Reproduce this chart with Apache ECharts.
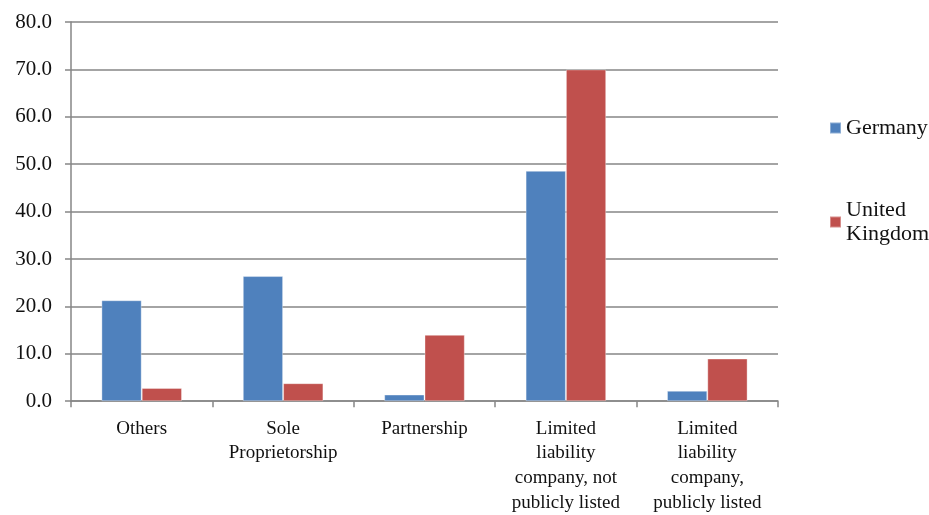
<!DOCTYPE html>
<html>
<head>
<meta charset="utf-8">
<script src="https://cdn.jsdelivr.net/npm/echarts@6/dist/echarts.min.js"></script>
<style>html,body{margin:0;padding:0;background:#fff}#c{width:929px;height:515px}</style>
</head>
<body>
<div id="c"></div>
<script>
var categories = ['Others', 'Sole\nProprietorship', 'Partnership', 'Limited\nliability\ncompany, not\npublicly listed', 'Limited\nliability\ncompany,\npublicly listed'];
var germany = [21.3, 26.4, 1.4, 48.6, 2.2];
var uk = [2.8, 3.8, 14.0, 70.0, 9.0];
var yTicks = [0, 10, 20, 30, 40, 50, 60, 70, 80];

var FONT = '"Liberation Serif", "Times New Roman", serif';
var GRID = '#868686';
var chart = echarts.init(document.getElementById('c'), null, {renderer: 'canvas'});
chart.setOption({
  animation: false,
  backgroundColor: '#ffffff',
  grid: {left: 71, right: 151, top: 22, bottom: 107, containLabel: false},
  legend: [
    {data: ['Germany'], orient: 'vertical', left: 824, top: 112, itemWidth: 11, itemHeight: 11, itemGap: 8,
     icon: 'rect', textStyle: {fontFamily: FONT, fontSize: 22, color: '#111', padding: [0,0,0,0]}},
    {data: ['United Kingdom'], orient: 'vertical', left: 824, top: 181, itemWidth: 11, itemHeight: 11,
     icon: 'rect', formatter: function(n){ return 'United\nKingdom'; },
     textStyle: {fontFamily: FONT, fontSize: 22, color: '#111', lineHeight: 24, padding: [24,0,0,0]}}
  ],
  xAxis: {
    type: 'category',
    data: categories,
    axisLine: {lineStyle: {color: GRID, width: 1.5}},
    axisTick: {show: true, length: 6, lineStyle: {color: GRID, width: 1.5}},
    axisLabel: {interval: 0, fontFamily: FONT, fontSize: 19, color: '#111', lineHeight: 24.7, margin: 15, verticalAlign: 'top'},
    splitLine: {show: false}
  },
  yAxis: {
    type: 'value',
    min: 0, max: 80, interval: 10,
    axisLine: {show: true, lineStyle: {color: GRID, width: 1.5}},
    axisTick: {show: true, length: 6, lineStyle: {color: GRID, width: 1.5}},
    axisLabel: {fontFamily: FONT, fontSize: 21, color: '#111', margin: 19,
      formatter: function(v){ return yTicks.indexOf(v) >= 0 ? v.toFixed(1) : ''; }},
    splitLine: {show: true, lineStyle: {color: GRID, width: 1.5}}
  },
  series: [
    {name: 'Germany', type: 'bar', data: germany, barGap: '0%', barCategoryGap: '43%',
     itemStyle: {color: '#4F81BD', borderColor: 'rgba(255,255,255,0.35)', borderWidth: 1}},
    {name: 'United Kingdom', type: 'bar', data: uk, barGap: '0%', barCategoryGap: '43%',
     itemStyle: {color: '#C0504D', borderColor: 'rgba(255,255,255,0.35)', borderWidth: 1}}
  ]
});
</script>
</body>
</html>
